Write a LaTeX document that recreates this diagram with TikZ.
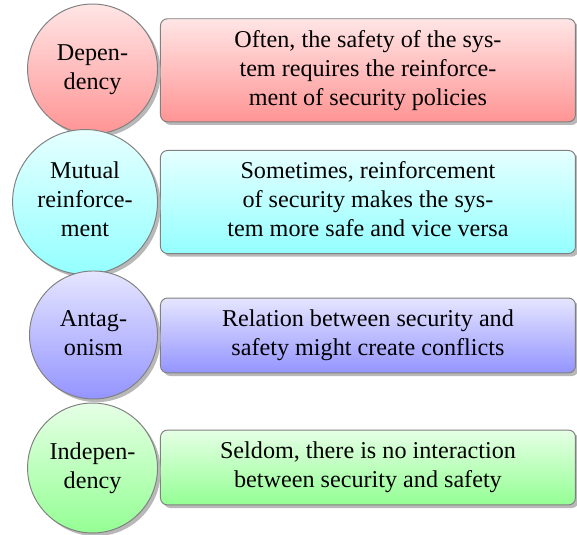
\documentclass[tikz,border=0pt]{standalone}
\usepackage{fontspec}
\setmainfont{Liberation Serif}
\newcommand{\cl}[1]{\begin{tabular}{@{}c@{}}#1\end{tabular}}
\begin{document}
\begin{tikzpicture}[x=0.414pt,y=-0.414pt,
  shd/.style={preaction={fill=black!28,draw=none,transform canvas={shift={(1.3pt,-1.3pt)}}}},
  circ/.style={circle,draw=black!50,line width=0.4pt,inner sep=0pt,shd,anchor=east,
    top color=#1!10,bottom color=#1!42},
  rbox/.style={rectangle,rounded corners=2.9pt,draw=black!50,line width=0.4pt,shd,anchor=west,
    minimum width=171.8pt,top color=#1!10,bottom color=#1!42}]
\useasboundingbox (0,0) rectangle (577,535);
% row 1
\node[rbox=red,minimum height=39.7pt] (b1) at (160,70.3) {\cl{Often, the safety of the sys-\\tem requires the reinforce-\\ment of security policies}};
\node[circ=red,minimum size=53.8pt] (c1) at (158,69) {\cl{Depen-\\dency}};
% row 2
\node[rbox=cyan,minimum height=38.5pt] (b2) at (160,202) {\cl{Sometimes, reinforcement\\of security makes the sys-\\tem more safe and vice versa}};
\node[circ=cyan,minimum size=60pt] (c2) at (158,202) {\cl{Mutual\\reinforce-\\ment}};
% row 3
\node[rbox=blue,minimum height=31pt] (b3) at (160,335.5) {\cl{Relation between security and\\safety might create conflicts}};
\node[circ=blue,minimum size=53pt] (c3) at (158,335) {\cl{Antag-\\onism}};
% row 4
\node[rbox=green,minimum height=31pt] (b4) at (160,467.5) {\cl{Seldom, there is no interaction\\between security and safety}};
\node[circ=green,minimum size=53.8pt] (c4) at (158,468) {\cl{Indepen-\\dency}};
\end{tikzpicture}
\end{document}
